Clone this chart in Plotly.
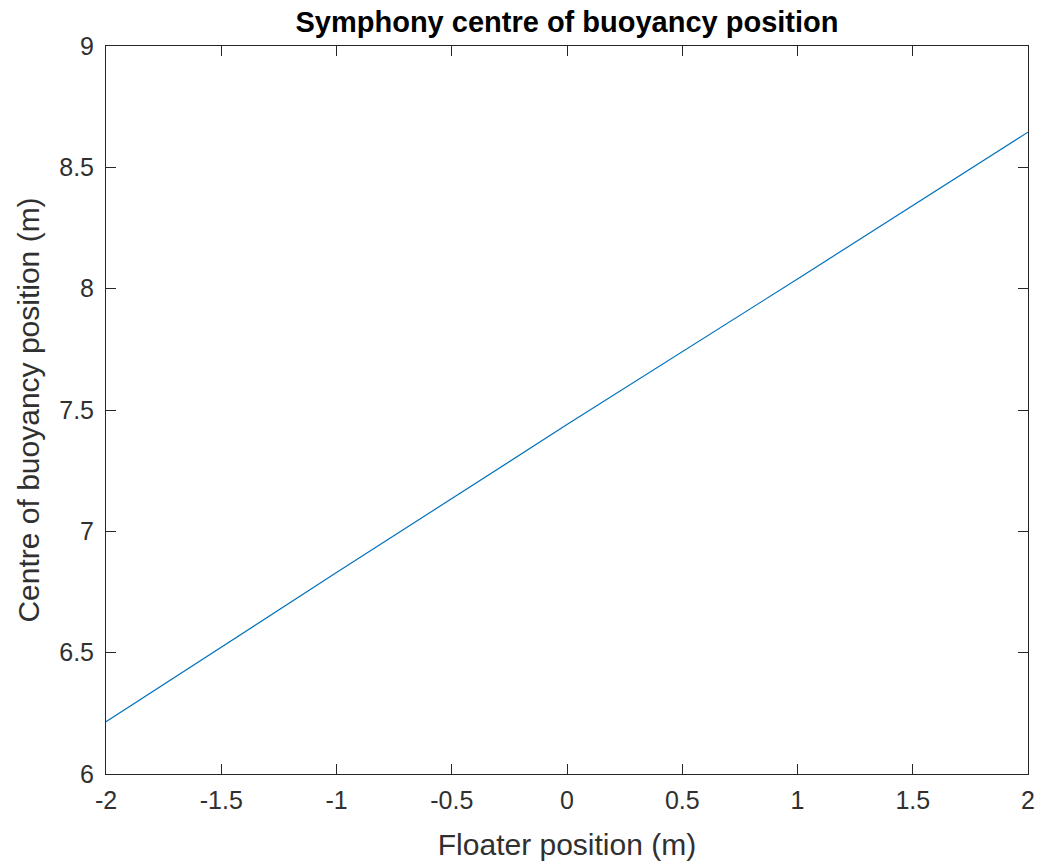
import plotly.graph_objects as go

floater_pos = [-2.0, -1.0, 0.0, 1.0, 2.0]
cob_pos = [6.215, 6.83, 7.44, 8.04, 8.645]

x_ticks = [-2, -1.5, -1, -0.5, 0, 0.5, 1, 1.5, 2]
x_tick_labels = ["-2", "-1.5", "-1", "-0.5", "0", "0.5", "1", "1.5", "2"]
y_ticks = [6, 6.5, 7, 7.5, 8, 8.5, 9]
y_tick_labels = ["6", "6.5", "7", "7.5", "8", "8.5", "9"]

FONT = "Liberation Sans, Arial, Helvetica"

fig = go.Figure(go.Scatter(x=floater_pos, y=cob_pos, mode="lines",
                           line=dict(color="#0072BD", width=1.2)))

axis_common = dict(showline=True, mirror="ticks", linecolor="#262626", linewidth=1,
                   ticks="inside", ticklen=10, tickcolor="#262626", showgrid=False,
                   zeroline=False, tickfont=dict(family=FONT, size=25, color="#303030"))

fig.update_layout(
    width=1042, height=866,
    margin=dict(l=106, r=7, t=46, b=92),
    plot_bgcolor="white", paper_bgcolor="white",
    showlegend=False,
    title=dict(text="<b>Symphony centre of buoyancy position</b>", x=0.5, xref="paper",
               xanchor="center", y=0.975, yanchor="middle",
               font=dict(family=FONT, size=29, color="black")),
    xaxis=dict(range=[-2, 2], tickvals=x_ticks, ticktext=x_tick_labels, ticklabelstandoff=4,
               title=dict(text="Floater position (m)", standoff=20,
                          font=dict(family=FONT, size=30, color="#303030")),
               **axis_common),
    yaxis=dict(range=[6, 9], tickvals=y_ticks, ticktext=y_tick_labels, ticklabelstandoff=6,
               title=dict(text="Centre of buoyancy position (m)", standoff=10,
                          font=dict(family=FONT, size=30, color="#303030")),
               **axis_common),
)

fig.write_html("out.html")
